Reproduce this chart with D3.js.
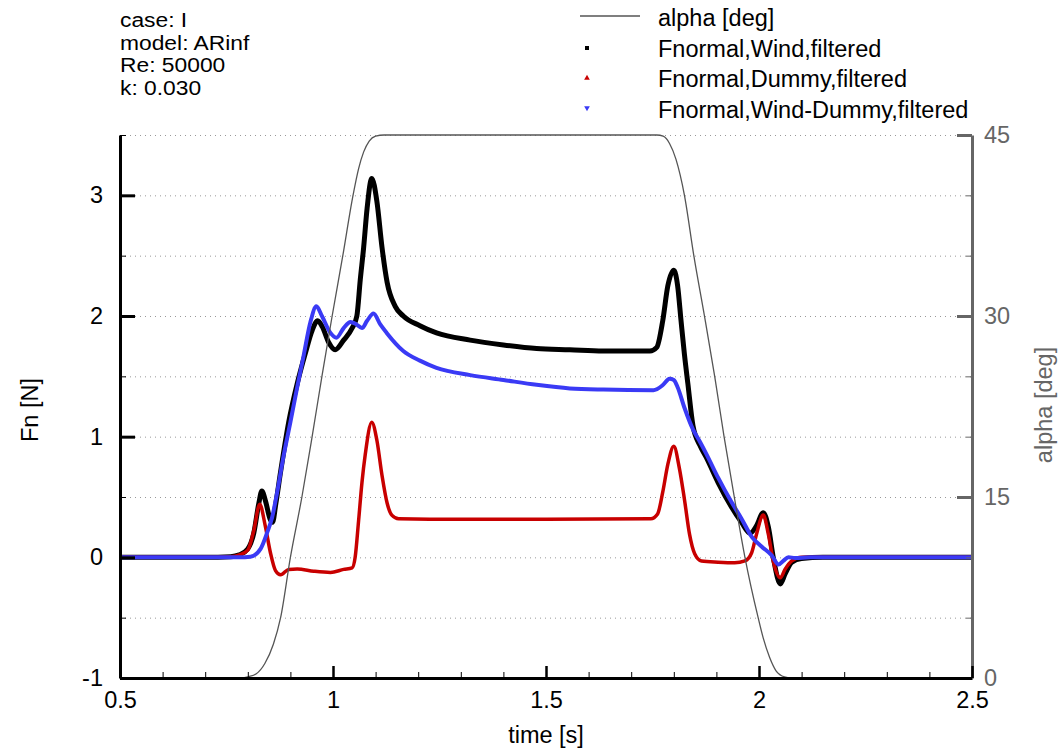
<!DOCTYPE html>
<html>
<head>
<meta charset="utf-8">
<script src="https://cdn.jsdelivr.net/npm/d3@7"></script>
<style>
  body { margin: 0; background: #fff; }
  svg { display: block; font-family: Arial, "Liberation Sans", sans-serif; }
</style>
</head>
<body>
<svg id="chart" width="1064" height="749"></svg>
<script>
// ---------------- data ----------------
const infoLines = ["case: I", "model: ARinf", "Re: 50000", "k: 0.030"];
const legendLabels = ["alpha [deg]", "Fnormal,Wind,filtered", "Fnormal,Dummy,filtered", "Fnormal,Wind-Dummy,filtered"];
const xTicks = [0.5, 1, 1.5, 2, 2.5];
const yTicks = [-1, 0, 1, 2, 3];
const alphaTicks = [0, 15, 30, 45];

// alpha [deg] vs time [s]
const alphaData = [[0.5,0],[0.78,0],[0.80,0.1],[0.82,0.35],[0.84,1.2],[0.86,2.8],[0.877,5],[0.90,10],[0.927,15],[0.951,20],
  [0.974,25],[0.998,30],[1.023,35],[1.047,40],[1.06,42.2],[1.072,43.6],[1.085,44.5],[1.10,44.9],[1.12,45],[1.76,45],
  [1.775,44.9],[1.79,44.3],[1.805,43],[1.825,40],[1.847,35],[1.872,30],[1.896,25],[1.918,20],[1.942,15],[1.967,10],
  [1.998,5],[2.01,3.3],[2.025,1.7],[2.04,0.6],[2.06,0.1],[2.08,0],[2.5,0]];

// Fnormal, Wind, filtered [N]
const windData = [[0.5,0],[0.7,0],[0.76,0.005],[0.78,0.02],[0.80,0.07],[0.814,0.2],[0.826,0.45],[0.833,0.55],[0.842,0.46],
  [0.852,0.32],[0.858,0.29],[0.866,0.45],[0.877,0.71],[0.896,1.12],[0.916,1.44],[0.935,1.69],[0.951,1.88],[0.964,1.96],
  [0.975,1.91],[0.99,1.78],[1.005,1.72],[1.025,1.8],[1.045,1.9],[1.056,2.0],[1.064,2.3],[1.072,2.57],[1.08,2.89],
  [1.091,3.14],[1.103,2.95],[1.115,2.57],[1.127,2.28],[1.146,2.08],[1.165,2.0],[1.204,1.92],[1.243,1.86],[1.322,1.80],
  [1.40,1.76],[1.478,1.73],[1.556,1.72],[1.634,1.71],[1.744,1.71],[1.76,1.74],[1.774,1.96],[1.786,2.25],[1.80,2.38],
  [1.809,2.25],[1.817,1.96],[1.825,1.68],[1.833,1.44],[1.845,1.09],[1.861,0.93],[1.876,0.83],[1.904,0.62],[1.935,0.42],
  [1.959,0.29],[1.979,0.2],[1.994,0.26],[2.01,0.37],[2.022,0.25],[2.034,-0.01],[2.05,-0.22],[2.061,-0.14],[2.077,-0.04],
  [2.10,-0.01],[2.15,0],[2.5,0]];

// Fnormal, Dummy, filtered [N]
const dummyData = [[0.5,0],[0.7,0],[0.76,0.005],[0.78,0.02],[0.80,0.06],[0.814,0.22],[0.828,0.44],[0.841,0.26],[0.853,0.04],
  [0.865,-0.11],[0.877,-0.145],[0.896,-0.1],[0.916,-0.096],[0.955,-0.115],[0.994,-0.125],[1.025,-0.1],[1.045,-0.087],
  [1.052,0.0],[1.06,0.3],[1.068,0.62],[1.076,0.86],[1.091,1.12],[1.103,0.97],[1.115,0.68],[1.127,0.45],[1.138,0.35],
  [1.154,0.32],[1.3,0.315],[1.5,0.315],[1.746,0.32],[1.762,0.36],[1.774,0.54],[1.786,0.77],[1.80,0.92],[1.813,0.74],
  [1.825,0.48],[1.837,0.19],[1.849,0.03],[1.865,-0.03],[1.904,-0.04],[1.943,-0.045],[1.967,-0.03],[1.983,0.04],
  [1.994,0.19],[2.01,0.35],[2.022,0.19],[2.034,-0.04],[2.05,-0.17],[2.061,-0.1],[2.077,-0.03],[2.10,0],[2.5,0]];

// Fnormal, Wind-Dummy, filtered [N]
const diffData = [[0.5,0],[0.78,0],[0.806,0.005],[0.83,0.07],[0.845,0.2],[0.857,0.33],[0.869,0.54],[0.884,0.84],[0.90,1.12],
  [0.916,1.41],[0.931,1.67],[0.947,1.95],[0.961,2.08],[0.974,2.0],[0.994,1.86],[1.008,1.82],[1.025,1.9],[1.041,1.95],
  [1.055,1.93],[1.068,1.9],[1.08,1.96],[1.095,2.02],[1.111,1.93],[1.126,1.86],[1.165,1.71],[1.204,1.63],
  [1.243,1.57],[1.322,1.51],[1.40,1.47],[1.478,1.43],[1.556,1.40],[1.634,1.39],[1.752,1.385],[1.775,1.43],[1.79,1.48],
  [1.80,1.47],[1.809,1.41],[1.825,1.24],[1.845,1.06],[1.861,0.96],[1.876,0.86],[1.904,0.66],[1.935,0.46],[1.959,0.32],
  [1.983,0.17],[2.006,0.09],[2.03,0.015],[2.046,-0.06],[2.057,-0.03],[2.069,0.0],[2.085,-0.005],[2.12,0],[2.5,0]];

// ---------------- chart ----------------
const svg = d3.select("#chart");
const L = 120, R = 972, T = 135, B = 678;
const FS = 23.5;
const x = d3.scaleLinear().domain([0.5, 2.5]).range([L, R]);
const y = d3.scaleLinear().domain([-1, 3.5]).range([B, T]);
const ya = d3.scaleLinear().domain([0, 45]).range([B, T]);
const grayAxis = "#666";
const fmt = d => String(d);

// gridlines
const grid = svg.append("g").attr("transform", `translate(${L},0)`)
  .call(d3.axisLeft(y).tickValues(d3.range(-0.5, 3.51, 0.5)).tickSize(-(R - L)).tickFormat(""));
grid.select(".domain").remove();
grid.selectAll("line").attr("stroke", "#999").attr("stroke-width", 1).attr("stroke-dasharray", "1,4");

// series
const line = d3.line().x(d => x(d[0])).y(d => y(d[1])).curve(d3.curveMonotoneX);
const aline = d3.line().x(d => x(d[0])).y(d => ya(d[1])).curve(d3.curveMonotoneX);
const plot = svg.append("g");
plot.append("path").datum(windData).attr("d", line).attr("fill", "none").attr("stroke", "#000").attr("stroke-width", 5);
plot.append("path").datum(dummyData).attr("d", line).attr("fill", "none").attr("stroke", "#c80000").attr("stroke-width", 3.5);
plot.append("path").datum(diffData).attr("d", line).attr("fill", "none").attr("stroke", "#3a3af5").attr("stroke-width", 4);
plot.append("path").datum(alphaData).attr("d", aline).attr("fill", "none").attr("stroke", "#555").attr("stroke-width", 1.3);

// axes
function styleAxis(g, color, width) {
  g.select(".domain").attr("stroke", color).attr("stroke-width", width);
  g.selectAll(".tick line").attr("stroke", color);
  g.selectAll(".tick text").attr("fill", color).attr("font-size", FS).attr("font-family", "Arial, 'Liberation Sans', sans-serif");
}
// right (alpha) axis
const raMinor = svg.append("g").attr("transform", `translate(${R},0)`)
  .call(d3.axisRight(ya).tickValues([5, 10, 20, 25, 35, 40]).tickSize(-6).tickSizeOuter(0).tickFormat(""));
raMinor.select(".domain").remove();
raMinor.selectAll("line").attr("stroke", grayAxis).attr("stroke-width", 1);
const ra = svg.append("g").attr("transform", `translate(${R},0)`)
  .call(d3.axisRight(ya).tickValues(alphaTicks).tickSize(-15).tickSizeOuter(0).tickPadding(12).tickFormat(fmt));
styleAxis(ra, grayAxis, 3);
ra.selectAll(".tick line").attr("stroke-width", 3);

// bottom axis
const bMinor = svg.append("g").attr("transform", `translate(0,${B})`)
  .call(d3.axisBottom(x).tickValues(d3.range(0.6, 2.45, 0.1)).tickSize(-6).tickSizeOuter(0).tickFormat(""));
bMinor.select(".domain").remove();
bMinor.selectAll("line").attr("stroke", "#000").attr("stroke-width", 1);
const bx = svg.append("g").attr("transform", `translate(0,${B})`)
  .call(d3.axisBottom(x).tickValues(xTicks).tickSize(-12).tickSizeOuter(0).tickPadding(11).tickFormat(fmt));
styleAxis(bx, "#000", 3);
bx.selectAll(".tick line").attr("stroke-width", 2.5);
bx.selectAll(".tick text").attr("dy", "0.8em");

// left axis
const lMinor = svg.append("g").attr("transform", `translate(${L},0)`)
  .call(d3.axisLeft(y).tickValues(d3.range(-0.5, 3.51, 1)).tickSize(-6).tickSizeOuter(0).tickFormat(""));
lMinor.select(".domain").remove();
lMinor.selectAll("line").attr("stroke", "#000").attr("stroke-width", 1);
const ly = svg.append("g").attr("transform", `translate(${L},0)`)
  .call(d3.axisLeft(y).tickValues(yTicks).tickSize(-15).tickSizeOuter(0).tickPadding(17).tickFormat(fmt));
styleAxis(ly, "#000", 3);
ly.selectAll(".tick line").attr("stroke-width", 3);

// axis titles
svg.append("text").attr("x", 546).attr("y", 743).attr("text-anchor", "middle")
  .attr("font-size", FS).text("time [s]");
svg.append("text").attr("transform", `translate(38,410) rotate(-90)`).attr("text-anchor", "middle")
  .attr("font-size", FS).text("Fn [N]");
svg.append("text").attr("transform", `translate(1052,405) rotate(-90)`).attr("text-anchor", "middle")
  .attr("font-size", FS).attr("fill", grayAxis).text("alpha [deg]");

// info text (slightly wide glyphs, compact line spacing as in the reference)
svg.append("g").selectAll("text").data(infoLines).join("text")
  .attr("transform", (d, i) => `translate(120,${27 + i * 22.7}) scale(1.17,1)`)
  .attr("font-size", 19.5).text(d => d);

// legend
const lg = svg.append("g");
lg.append("line").attr("x1", 580).attr("x2", 640).attr("y1", 16).attr("y2", 16).attr("stroke", "#555").attr("stroke-width", 1.3);
lg.append("rect").attr("x", 585).attr("y", 46).attr("width", 4).attr("height", 4).attr("fill", "#000");
lg.append("path").attr("d", d3.symbol(d3.symbolTriangle, 14)()).attr("transform", "translate(587,78)").attr("fill", "#c80000");
lg.append("path").attr("d", d3.symbol(d3.symbolTriangle, 14)()).attr("transform", "translate(587,108) rotate(180)").attr("fill", "#3a3af5");
lg.selectAll("text.lab").data(legendLabels).join("text").attr("class", "lab")
  .attr("x", 658).attr("y", (d, i) => 26 + i * 30.5).attr("font-size", FS).text(d => d);
</script>
</body>
</html>
